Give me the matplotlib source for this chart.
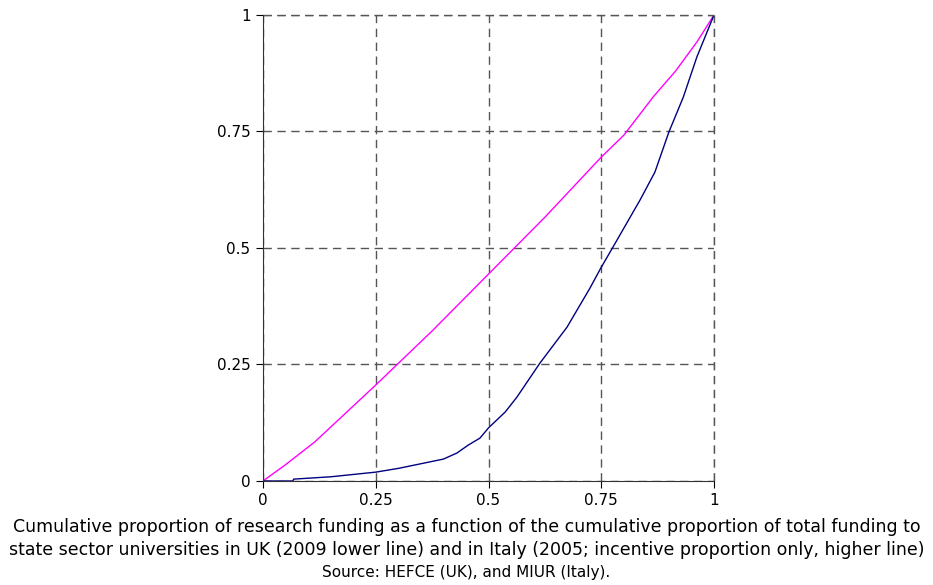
import matplotlib.pyplot as plt

# Italy (2005, incentive proportion only) - higher line
italy_x = [0, 0.05, 0.115, 0.25, 0.375, 0.5, 0.625, 0.75, 0.80, 0.865, 0.915, 0.962, 1.0]
italy_y = [0, 0.035, 0.084, 0.206, 0.322, 0.444, 0.566, 0.695, 0.742, 0.824, 0.88, 0.942, 1.0]

# UK (2009) - lower line
uk_x = [0, 0.066, 0.068, 0.15, 0.25, 0.30, 0.35, 0.40, 0.43, 0.455, 0.481, 0.50, 0.537, 0.563,
        0.614, 0.674, 0.725, 0.749, 0.776, 0.836, 0.869, 0.900, 0.932, 0.962, 1.0]
uk_y = [0, 0.0, 0.004, 0.009, 0.019, 0.027, 0.037, 0.047, 0.06, 0.077, 0.092, 0.114, 0.148, 0.18,
        0.253, 0.33, 0.414, 0.457, 0.502, 0.603, 0.663, 0.749, 0.824, 0.91, 1.0]

ticks = [0, 0.25, 0.5, 0.75, 1]
tick_labels = ['0', '0.25', '0.5', '0.75', '1']

fig = plt.figure(figsize=(9.33, 5.85), dpi=100)
ax = fig.add_axes([0.2819, 0.1778, 0.4834, 0.7966])

ax.plot(italy_x, italy_y, color='#FF00FF', lw=1)
ax.plot(uk_x, uk_y, color='#000080', lw=1)

ax.set_xlim(0, 1)
ax.set_ylim(0, 1)
ax.set_xticks(ticks)
ax.set_xticklabels(tick_labels)
ax.set_yticks(ticks)
ax.set_yticklabels(tick_labels)
ax.tick_params(direction='out', length=5, labelsize=11, pad=4)

for s in ['top', 'right']:
    ax.spines[s].set_visible(False)
for s in ['left', 'bottom']:
    ax.spines[s].set_color('#333333')
    ax.spines[s].set_zorder(3)

ax.grid(True, color='#555555', linestyle=(0, (6, 4)), lw=1)
ax.axhline(1, color='#555555', linestyle=(0, (6, 4)), lw=1, clip_on=False)
ax.axvline(1, color='#555555', linestyle=(0, (6, 4)), lw=1, clip_on=False)

fig.text(0.5, 0.100, 'Cumulative proportion of research funding as a function of the cumulative proportion of total funding to',
         ha='center', va='center', fontsize=12.5)
fig.text(0.5, 0.059, 'state sector universities in UK (2009 lower line) and in Italy (2005; incentive proportion only, higher line)',
         ha='center', va='center', fontsize=12.5)
fig.text(0.5, 0.022, 'Source: HEFCE (UK), and MIUR (Italy).', ha='center', va='center', fontsize=11)

fig.savefig('out.png', dpi=100)
